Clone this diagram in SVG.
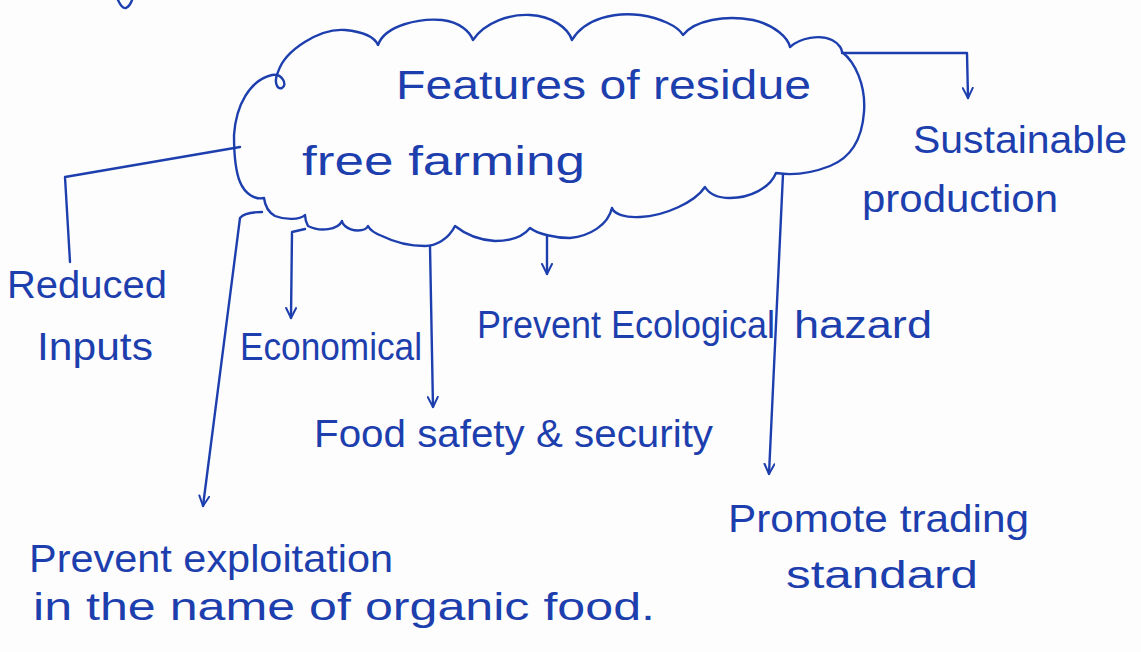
<svg xmlns="http://www.w3.org/2000/svg" width="1141" height="652" viewBox="0 0 1141 652">
<defs>
<style>
.ink{fill:none;stroke:#1d3fae;stroke-width:2.4;stroke-linecap:round;stroke-linejoin:round}
.t{font-family:"Liberation Sans",Arial,sans-serif;font-size:38px;fill:#1d3fae}
.big{font-size:40px}
</style>
<marker id="arr" viewBox="0 0 12 12" refX="11" refY="6" markerWidth="12" markerHeight="12" markerUnits="userSpaceOnUse" orient="auto">
<path d="M1,1 L11,6 L1,11" fill="none" stroke="#1d3fae" stroke-width="2" stroke-linecap="round" stroke-linejoin="round"/>
</marker>
</defs>
<rect width="1141" height="652" fill="#fdfdfe"/>
<path class="ink" d="M118 0 Q122 9 126 8 Q130 6 132 0"/>
<g id="cloud">
<path class="ink" d="M234 135 C236 105 250 80 272 75 C282 73 288 85 282 88 C276 90 274 80 278 72 C285 50 320 28 345 30 C365 32 375 38 378 45 C385 25 420 18 442 20 C460 22 470 32 473 40 C485 22 510 14 530 15 C552 16 568 28 572 40 C585 18 615 12 640 15 C660 18 678 26 683 35 C695 20 725 15 753 20 C775 25 788 38 790 47 C800 38 820 34 832 40 C840 44 842 50 842 52 C855 62 866 85 864 112 C862 140 850 158 830 166 C812 173 795 176 776 173 C770 188 750 198 730 198 C715 198 708 192 705 187 C695 202 665 216 640 217 C625 218 614 214 612 208 C608 225 590 236 570 238 C555 238 538 234 530 228 C522 238 510 241 495 241 C478 240 465 234 455 226 C448 240 435 246 425 246 C405 246 390 240 382 236 C374 233 370 230 368 226 C365 232 352 232 345 226 C343 224 342 222 342 221 C338 230 320 232 308 226 C306 222 305 218 305 215 C300 220 285 220 275 216 C268 212 265 206 264 198 C255 200 245 194 240 182 C235 170 234 152 234 135 Z"/>
<text class="t big" x="396" y="99" textLength="415" lengthAdjust="spacingAndGlyphs">Features of residue</text>
<text class="t big" x="302" y="175" textLength="283" lengthAdjust="spacingAndGlyphs">free farming</text>
</g>
<g id="connectors">
<path class="ink" d="M842 53 L967 53 L968 98" marker-end="url(#arr)"/>
<path class="ink" d="M240 147 L65 177 L70 262"/>
<path class="ink" d="M262 212 Q245 212 240 218 L203 506" marker-end="url(#arr)"/>
<path class="ink" d="M305 229 L292 232 L291 318" marker-end="url(#arr)"/>
<path class="ink" d="M430 246 L433 407" marker-end="url(#arr)"/>
<path class="ink" d="M547 236 L547 274" marker-end="url(#arr)"/>
<path class="ink" d="M783 174 L769 474" marker-end="url(#arr)"/>
</g>
<g id="sustainable"><text class="t" x="913" y="153" textLength="214" lengthAdjust="spacingAndGlyphs">Sustainable</text>
<text class="t" x="862" y="212" textLength="196" lengthAdjust="spacingAndGlyphs">production</text></g>
<g id="reduced"><text class="t" x="7" y="298" textLength="160" lengthAdjust="spacingAndGlyphs">Reduced</text>
<text class="t" x="37" y="360" textLength="116" lengthAdjust="spacingAndGlyphs">Inputs</text></g>
<g id="economical"><text class="t" x="240" y="360" textLength="182" lengthAdjust="spacingAndGlyphs">Economical</text></g>
<g id="ecological"><text class="t" y="338"><tspan x="477" textLength="298" lengthAdjust="spacingAndGlyphs">Prevent Ecological</tspan> <tspan x="794" textLength="138" lengthAdjust="spacingAndGlyphs">hazard</tspan></text></g>
<g id="food"><text class="t" x="314" y="447" textLength="399" lengthAdjust="spacingAndGlyphs">Food safety &amp; security</text></g>
<g id="promote"><text class="t" x="728" y="532" textLength="301" lengthAdjust="spacingAndGlyphs">Promote trading</text>
<text class="t" x="786" y="588" textLength="192" lengthAdjust="spacingAndGlyphs">standard</text></g>
<g id="exploitation"><text class="t" x="29" y="572" textLength="364" lengthAdjust="spacingAndGlyphs">Prevent exploitation</text>
<text class="t" x="33" y="620" font-size="41" textLength="622" lengthAdjust="spacingAndGlyphs">in the name of organic food.</text></g>
</svg>
